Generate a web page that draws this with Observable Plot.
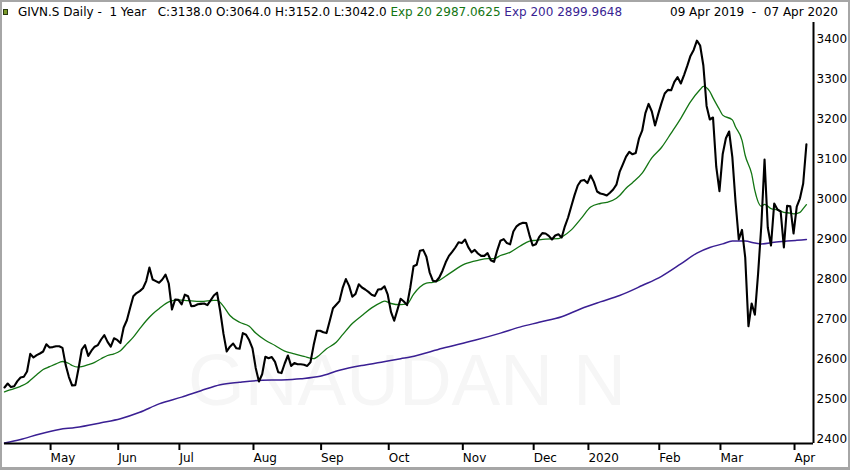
<!DOCTYPE html>
<html>
<head>
<meta charset="utf-8">
<script src="https://cdn.jsdelivr.net/npm/d3@7"></script>
<script src="https://cdn.jsdelivr.net/npm/@observablehq/plot@0.6"></script>
<style>
  html, body { margin: 0; padding: 0; background: #fff; }
  #wrap { position: relative; width: 850px; height: 470px; overflow: hidden; font-family: "DejaVu Sans", sans-serif; }
  #wrap svg { display: block; }
  #hdr { position: absolute; left: 18px; top: 5px; font-size: 12px; line-height: 14px; white-space: pre; color: #000; }
  #rng { position: absolute; right: 12px; top: 5px; font-size: 12px; line-height: 14px; white-space: pre; color: #000; }
  #frame { position: absolute; left: 0; top: 0; width: 850px; height: 470px; box-sizing: border-box;
           border: 2px solid #a6a6a6; border-bottom-width: 3px; pointer-events: none; }
  #icon { position: absolute; left: 3px; top: 9px; width: 3px; height: 4px; background: #7a9a2a; border: 1px solid #2a3a10; }
</style>
</head>
<body>
<div id="wrap"></div>
<script>
// ---- header values ----
const symbol = "GIVN.S Daily -  1 Year";
const ohlc = ["C:3138.0", "O:3064.0", "H:3152.0", "L:3042.0"];
const ema20Label = "Exp 20 2987.0625";
const ema200Label = "Exp 200 2899.9648";
const rangeLabel = "09 Apr 2019  -  07 Apr 2020";
const watermark = "GNAUDAN N";

// ---- daily closes (trading-day index 0 = 09 Apr 2019 ... 249 = 07 Apr 2020) ----
const closes = [
  2530, 2540, 2531, 2533, 2546, 2555, 2557, 2570, 2614, 2605,
  2611, 2615, 2620, 2638, 2630, 2631, 2633, 2633, 2629, 2586,
  2556, 2535, 2536, 2578, 2625, 2636, 2609, 2622, 2632, 2636,
  2650, 2661, 2644, 2632, 2653, 2649, 2641, 2680, 2698, 2729,
  2758, 2766, 2771, 2778, 2796, 2830, 2800, 2796, 2792, 2800,
  2812, 2790, 2725, 2750, 2749, 2738, 2762, 2758, 2733, 2734,
  2738, 2739, 2740, 2736, 2748, 2760, 2767, 2720, 2664, 2620,
  2632, 2640, 2628, 2627, 2666, 2662, 2648, 2628, 2579, 2545,
  2563, 2607, 2603, 2606, 2594, 2568, 2566, 2590, 2610, 2584,
  2591, 2588, 2588, 2587, 2584, 2593, 2636, 2672, 2672, 2668,
  2666, 2697, 2728, 2737, 2746, 2779, 2801, 2784, 2757, 2764,
  2788, 2780, 2775, 2769, 2762, 2759, 2775, 2776, 2783, 2762,
  2719, 2697, 2724, 2752, 2745, 2736, 2780, 2833, 2837, 2872,
  2874, 2857, 2818, 2797, 2795, 2805, 2822, 2843, 2859, 2869,
  2880, 2893, 2891, 2900, 2881, 2868, 2874, 2865, 2859, 2859,
  2866, 2848, 2844, 2873, 2897, 2901, 2891, 2888, 2920, 2933,
  2939, 2942, 2941, 2911, 2885, 2888, 2906, 2916, 2915, 2909,
  2900, 2910, 2913, 2905, 2933, 2955, 2983, 3011, 3035, 3047,
  3049, 3041, 3060, 3044, 3020, 3015, 3013, 3010, 3017, 3025,
  3037, 3069, 3088, 3107, 3119, 3113, 3116, 3152, 3172, 3216,
  3239, 3220, 3185, 3214, 3241, 3265, 3274, 3273, 3294, 3306,
  3290, 3311, 3334, 3359, 3374, 3397, 3385, 3335, 3234, 3200,
  3205, 3082, 3021, 3113, 3153, 3170, 3106, 2993, 2900, 2924,
  2855, 2683, 2740, 2712, 2815, 2935, 3100, 2930, 2885, 2990,
  2975, 2970, 2880, 2984, 2983, 2915, 2982, 3003, 3040, 3138
];

// ---- Exp 20 ----
const ema20Days = [0, 1, 3, 5, 7, 8, 10, 12, 14, 16, 18, 20, 21, 23, 24, 26, 28, 30, 32, 34,
  36, 38, 40, 42, 44, 46, 48, 51, 54, 57, 61, 65, 66, 68, 70, 73, 76, 78, 81, 84,
  87, 90, 93, 96, 97, 100, 103, 105, 108, 111, 114, 117, 118, 120, 123, 125, 127, 129, 131, 133,
  135, 138, 143, 147, 150, 152, 154, 157, 160, 163, 165, 168, 172, 173, 176, 179, 182, 185, 187, 190,
  191, 193, 195, 198, 201, 204, 207, 210, 213, 216, 217, 219, 220, 222, 223, 226, 227, 229, 230, 232,
  233, 235, 236, 238, 240, 242, 244, 245, 247, 248, 249];
const ema20 = [2519, 2522, 2527, 2533, 2541, 2548, 2562, 2575, 2582, 2589, 2595, 2590, 2585, 2581, 2582, 2587, 2593, 2602, 2610, 2614,
  2622, 2639, 2656, 2677, 2697, 2714, 2727, 2744, 2749, 2747, 2745, 2748, 2748, 2733, 2710, 2693, 2683, 2666, 2648, 2635,
  2621, 2614, 2608, 2602, 2606, 2627, 2643, 2662, 2690, 2710, 2729, 2743, 2746, 2740, 2737, 2739, 2763, 2781, 2791, 2793,
  2798, 2814, 2839, 2848, 2852, 2852, 2860, 2868, 2883, 2896, 2898, 2901, 2902, 2906, 2924, 2952, 2981, 2990, 2993, 3003,
  3010, 3028, 3042, 3066, 3104, 3130, 3166, 3203, 3244, 3275, 3283, 3270, 3254, 3225, 3211, 3199, 3181, 3148, 3110, 3064,
  3022, 2983, 2988, 2977, 2974, 2968, 2966, 2964, 2968, 2977, 2987];

// ---- Exp 200 ----
const ema200Days = [0, 5, 11, 17, 22, 30, 36, 42, 48, 55, 61, 67, 73, 80, 86, 92, 98, 104, 111, 117,
  123, 126, 136, 146, 154, 160, 166, 173, 179, 185, 191, 198, 204, 210, 215, 219, 223, 226, 230, 233,
  235, 239, 243, 246, 249];
const ema200 = [2391, 2400, 2414, 2425, 2430, 2442, 2452, 2468, 2489, 2506, 2522, 2537, 2543, 2548, 2549, 2552, 2558, 2573, 2585, 2593,
  2602, 2606, 2628, 2648, 2666, 2681, 2693, 2707, 2727, 2744, 2760, 2785, 2808, 2839, 2866, 2880, 2889, 2896, 2896, 2891,
  2889, 2893, 2896, 2898, 2900];

// ---- axes ----
const monthDays = [14, 35, 54, 77, 98, 119, 142, 164, 181, 203, 222, 245];
const monthLabels = ["May", "Jun", "Jul", "Aug", "Sep", "Oct", "Nov", "Dec", "2020", "Feb", "Mar", "Apr"];
const yTicks = [2400, 2500, 2600, 2700, 2800, 2900, 3000, 3100, 3200, 3300, 3400];

const closeData = closes.map((v, i) => ({day: i, value: v}));
const ema20Data = ema20Days.map((d, i) => ({day: d, value: ema20[i]}));
const ema200Data = ema200Days.map((d, i) => ({day: d, value: ema200[i]}));

const xMax = 251.2;
const yMin = 2390, yMax = 3442.5;

const chart = Plot.plot({
  width: 850,
  height: 470,
  marginLeft: 4,
  marginRight: 37,
  marginTop: 22,
  marginBottom: 27,
  style: {fontFamily: "DejaVu Sans", fontSize: "12px", background: "white", color: "black"},
  x: {domain: [0, xMax]},
  y: {domain: [yMin, yMax]},
  marks: [
    Plot.text([watermark], {frameAnchor: "bottom", dx: -2, dy: -62, lineAnchor: "middle",
      fontSize: 73, fontFamily: "Liberation Sans", fill: "#f6f6f6"}),
    Plot.line(ema200Data, {x: "day", y: "value", stroke: "#3a1f93", strokeWidth: 1.5, curve: "monotone-x"}),
    Plot.line(ema20Data, {x: "day", y: "value", stroke: "#137513", strokeWidth: 1.3, curve: "monotone-x"}),
    Plot.line(closeData, {x: "day", y: "value", stroke: "#000", strokeWidth: 2.1, strokeLinejoin: "round"}),
    Plot.ruleY([yMin], {stroke: "#000", strokeWidth: 2}),
    Plot.ruleX([xMax], {stroke: "#000", strokeWidth: 2}),
    Plot.axisX({ticks: monthDays, tickFormat: d => monthLabels[monthDays.indexOf(d)],
      tickSize: 7, tickPadding: 3, textAnchor: "start", dx: 1, strokeWidth: 2, fontSize: 12, label: null}),
    Plot.axisY({anchor: "right", ticks: yTicks, tickFormat: d => String(d),
      tickSize: 0, tickPadding: 3, fontSize: 12, label: null})
  ]
});

const wrap = document.getElementById("wrap");
wrap.appendChild(chart);

const hdr = document.createElement("div");
hdr.id = "hdr";
const s1 = document.createElement("span");
s1.textContent = symbol + "   " + ohlc.join(" ") + " ";
const s2 = document.createElement("span");
s2.style.color = "#137513";
s2.textContent = ema20Label + " ";
const s3 = document.createElement("span");
s3.style.color = "#3a1f93";
s3.textContent = ema200Label;
hdr.append(s1, s2, s3);
wrap.appendChild(hdr);

const rng = document.createElement("div");
rng.id = "rng";
rng.textContent = rangeLabel;
wrap.appendChild(rng);

const icon = document.createElement("div");
icon.id = "icon";
wrap.appendChild(icon);

const frame = document.createElement("div");
frame.id = "frame";
wrap.appendChild(frame);
</script>
</body>
</html>
